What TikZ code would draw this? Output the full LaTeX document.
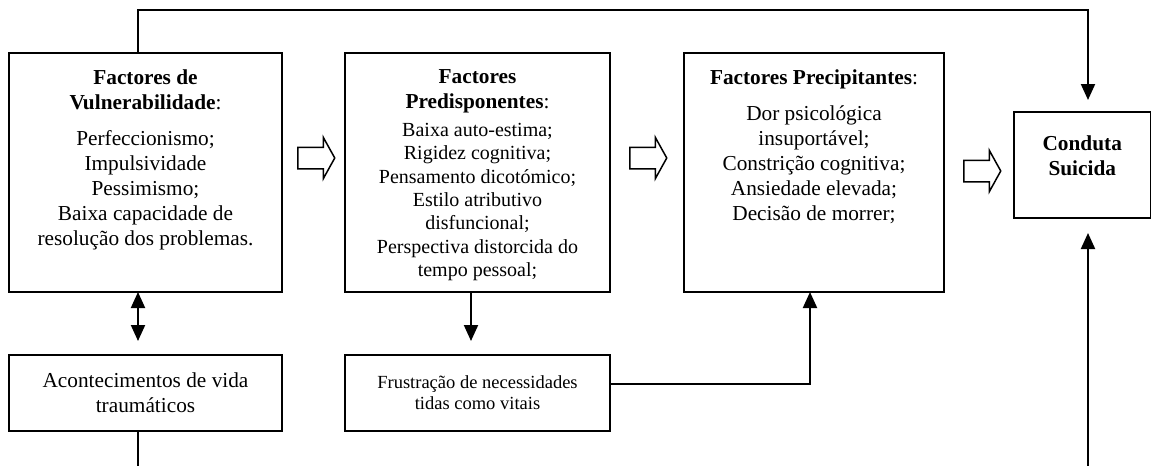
\documentclass[tikz,border=0pt]{standalone}
\usepackage{fontspec}
\setmainfont{Liberation Serif}
\usetikzlibrary{positioning,calc,arrows.meta,shapes.arrows}

\begin{document}
\begin{tikzpicture}[x=1pt,y=1pt,
         box/.style = {draw,line width=1.8pt,inner sep=0pt,outer sep=0pt},
         big/.style = {box,minimum width=#1,minimum height=239pt},
         low/.style = {box,minimum width=#1,minimum height=76pt},
         txt/.style = {align=center,inner sep=0pt,
            font=\fontsize{21.3}{25}\selectfont},
         link/.style = {line width=1.8pt},
         tip/.style = {line width=2pt,-{Triangle[length=16pt,width=14pt]}},
         hollow/.style = {single arrow,draw,line width=1.5pt,
            inner xsep=0pt,inner ysep=10pt,minimum height=37pt,
            single arrow head extend=10pt,single arrow tip angle=122}
]
         \useasboundingbox (0,0) rectangle (1152,-466);

         % main boxes
         \node[big=273pt,anchor=north west]  (fv)  at (9,-53) {};
         \node[big=265pt,right=63pt of fv]   (fp)  {};
         \node[big=260pt,right=74pt of fp]   (fpr) {};
         \node[box,minimum width=136.5pt,minimum height=106pt,
            below right=59pt and 70pt of fpr.north east] (cs) {};

         \node[low=273pt,below=63pt of fv] (av) [txt]
            {Acontecimentos de vida\\traumáticos};
         \node[low=265pt,below=63pt of fp] (fn) [txt,
            font=\fontsize{18.5}{21}\selectfont]
            {Frustração de necessidades\\tidas como vitais};

         % texts in the boxes
         \node[txt,below=16.5pt of fv.north]  (fvh)
            {\textbf{Factores de}\\\textbf{Vulnerabilidade}:};
         \node[txt,below=77.5pt of fv.north]  (fvb)
            {Perfeccionismo;\\Impulsividade\\Pessimismo;\\
             Baixa capacidade de\\resolução dos problemas.};

         \node[txt,below=16.5pt of fp.north]  (fph)
            {\textbf{Factores}\\\textbf{Predisponentes}:};
         \node[txt,below=69.8pt of fp.north,
            font=\fontsize{20}{23.4}\selectfont] (fpb)
            {Baixa auto-estima;\\Rigidez cognitiva;\\Pensamento dicotómico;\\
             Estilo atributivo\\disfuncional;\\Perspectiva distorcida do\\
             tempo pessoal;};

         \node[txt,below=16.5pt of fpr.north] (fprh)
            {\textbf{Factores Precipitantes}:};
         \node[txt,below=52.5pt of fpr.north] (fprb)
            {Dor psicológica\\insuportável;\\Constrição cognitiva;\\
             Ansiedade elevada;\\Decisão de morrer;};

         \node[txt,below=24pt of cs.north,font=\fontsize{21.3}{25}\selectfont\bfseries]
            (cst) {Conduta\\Suicida};

         % hollow arrows
         \node[hollow,right=15pt of fv.east,yshift=14.5pt]  (h1) {};
         \node[hollow,right=19pt of fp.east,yshift=14.5pt]  (h2) {};
         \node[hollow,right=19pt of fpr.east,yshift=1.5pt]  (h3) {};

         % free ends at the bottom
         \coordinate (b1) at ($(av.south west)+(129,-36)$);
         \coordinate (b2) at ($(cs.south)+(5.75,-249)$);

         % connectors
         \draw[link,tip] ($(fv.north west)+(129,0)$) -- ++(0,43)
            -| ($(cs.north)+(5.75,12)$);
         \draw[line width=2pt,{Triangle[length=16pt,width=14pt]}-{Triangle[length=16pt,width=14pt]}]
            ($(fv.south west)+(129,0)$) -- ($(av.north west)+(129,14)$);
         \draw[tip] ($(fp.south west)+(126,0)$) -- ($(fn.north west)+(126,14)$);
         \draw[tip] ($(fn.east)+(0,9.5)$) -| ($(fpr.south)+(-4,0)$);
         \draw[link] ($(av.south west)+(129,0)$) -- (b1);
         \draw[tip] (b2) -- ($(cs.south)+(5.75,-15)$);
\end{tikzpicture}
\end{document}
